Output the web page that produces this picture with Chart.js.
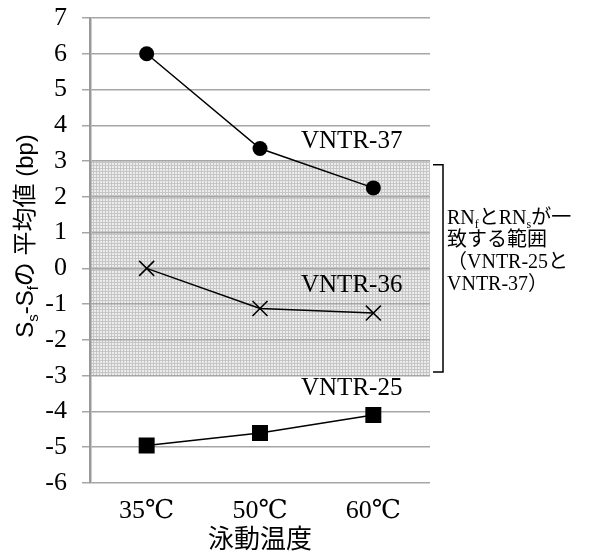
<!DOCTYPE html>
<html>
<head>
<meta charset="utf-8">
<script src="https://cdn.jsdelivr.net/npm/chart.js@4"></script>
<style>
  html, body { margin: 0; padding: 0; background: #fff; }
  #wrap { width: 589px; height: 556px; }
</style>
</head>
<body>
<div id="wrap"><canvas id="line_chart" width="589" height="556"></canvas></div>
<script>
const temps = ['35℃', '50℃', '60℃'];
const vntr37 = [6.0, 3.35, 2.25];
const vntr36 = [0.0, -1.12, -1.25];
const vntr25 = [-4.95, -4.6, -4.1];
const yMin = -6;
const yMax = 7;
const bandLow = -3;
const bandHigh = 3;

const serif = '"Liberation Serif", "DejaVu Serif", "Noto Sans CJK JP", serif';
const sans = '"Liberation Sans", "Noto Sans CJK JP", sans-serif';

// light stippled fill for the -3..3 band
function makePattern(ctx) {
    const c = document.createElement('canvas');
    c.width = 3; c.height = 3;
    const p = c.getContext('2d');
    p.fillStyle = '#ececec';
    p.fillRect(0, 0, 3, 3);
    p.fillStyle = '#c6c6c6';
    p.fillRect(0, 0, 3, 1);
    p.fillRect(0, 0, 1, 3);
    return ctx.createPattern(c, 'repeat');
}

// draw text pieces, some of them as subscripts
function drawRich(ctx, parts, x, y, size, family) {
    let cx = x;
    parts.forEach(([txt, sub]) => {
        const fs = sub ? Math.round(size * 0.62) : size;
        ctx.font = fs + 'px ' + family;
        ctx.fillText(txt, cx, sub ? y + size * 0.22 : y);
        cx += ctx.measureText(txt).width;
    });
    return cx - x;
}
function richWidth(ctx, parts, size, family) {
    let w = 0;
    parts.forEach(([txt, sub]) => {
        ctx.font = (sub ? Math.round(size * 0.62) : size) + 'px ' + family;
        w += ctx.measureText(txt).width;
    });
    return w;
}

const bandPlugin = {
    id: 'band',
    beforeDraw(chart) {
        const { ctx, chartArea, scales } = chart;
        const y1 = scales.y.getPixelForValue(bandHigh);
        const y2 = scales.y.getPixelForValue(bandLow);
        ctx.save();
        ctx.fillStyle = makePattern(ctx);
        ctx.fillRect(chartArea.left, y1, chartArea.right - chartArea.left, y2 - y1);
        ctx.restore();
    }
};

const notesPlugin = {
    id: 'notes',
    afterDraw(chart) {
        const { ctx, chartArea, scales } = chart;
        const xs = scales.x, ys = scales.y;
        ctx.save();
        ctx.fillStyle = '#000';
        ctx.textBaseline = 'alphabetic';
        ctx.textAlign = 'left';

        // series names
        ctx.font = '25px ' + serif;
        const lx = xs.getPixelForValue(1) + 41;
        ctx.fillText('VNTR-37', lx, ys.getPixelForValue(3.58) + 8);
        ctx.fillText('VNTR-36', lx, ys.getPixelForValue(-0.45) + 8);
        ctx.fillText('VNTR-25', lx, ys.getPixelForValue(-3.32) + 8);

        // bracket
        const bx = chartArea.right + 13;
        const t = ys.getPixelForValue(2.9), b = ys.getPixelForValue(-2.9);
        ctx.strokeStyle = '#000';
        ctx.lineWidth = 1.5;
        ctx.beginPath();
        ctx.moveTo(bx - 10, t);
        ctx.lineTo(bx, t);
        ctx.lineTo(bx, b);
        ctx.lineTo(bx - 10, b);
        ctx.stroke();

        // range note
        const nx = bx + 4;
        drawRich(ctx, [['RN'], ['f', true], ['とRN'], ['s', true], ['が一']], nx, 224, 20, serif);
        drawRich(ctx, [['致する範囲']], nx, 246, 20, serif);
        drawRich(ctx, [['（VNTR-25と']], nx, 268, 20, serif);
        drawRich(ctx, [['VNTR-37）']], nx, 290, 20, serif);

        // y axis title with subscripts
        const parts = [['S'], ['s', true], ['-S'], ['f', true], ['の 平均値 (bp)']];
        const w = richWidth(ctx, parts, 24, sans);
        ctx.translate(33, 236);
        ctx.rotate(-Math.PI / 2);
        drawRich(ctx, parts, -w / 2, 0, 24, sans);
        ctx.restore();
    }
};

const ctx = document.getElementById('line_chart').getContext('2d');

new Chart(ctx, {
    type: 'line',
    data: {
    labels: temps,
    datasets: [{
        label: 'VNTR-37',
        data: vntr37,
        borderColor: '#000',
        backgroundColor: '#000',
        borderWidth: 1.5,
        pointStyle: 'circle',
        pointRadius: 7.5,
        pointBorderWidth: 0
    }, {
        label: 'VNTR-36',
        data: vntr36,
        borderColor: '#000',
        backgroundColor: '#000',
        borderWidth: 1.5,
        pointStyle: 'crossRot',
        pointRadius: 10.6,
        pointBorderWidth: 1.5
    }, {
        label: 'VNTR-25',
        data: vntr25,
        borderColor: '#000',
        backgroundColor: '#000',
        borderWidth: 1.5,
        pointStyle: 'rect',
        pointRadius: 11.3,
        pointBorderWidth: 0
    }]
    },
    options: {
    responsive: false,
    animation: false,
    layout: { padding: { left: 0, right: 159, top: 18, bottom: 0 } },
    scales: {
        x: {
        offset: true,
        grid: { display: false, drawTicks: false },
        border: { display: false },
        ticks: { color: '#000', font: { size: 26, family: serif }, padding: 13 },
        title: {
            display: true,
            text: '泳動温度',
            color: '#000',
            font: { size: 26, family: sans },
            padding: { top: 0, bottom: 0 }
        },
        afterFit(scale) {
            scale.height = 73;
            scale.paddingLeft = 0;
            scale.paddingRight = 0;
        }
        },
        y: {
        min: yMin,
        max: yMax,
        ticks: { stepSize: 1, color: '#000', font: { size: 26, family: serif }, padding: 15 },
        grid: { color: '#a6a6a6', lineWidth: 1.5, tickLength: 8 },
        border: { color: '#999', width: 2.5 },
        afterFit(scale) {
            scale.width = 90;
            scale.paddingTop = 0;
            scale.paddingBottom = 0;
        }
        }
    },
    plugins: {
        legend: { display: false },
        tooltip: { enabled: false }
    }
    },
    plugins: [bandPlugin, notesPlugin]
});
</script>
</body>
</html>
